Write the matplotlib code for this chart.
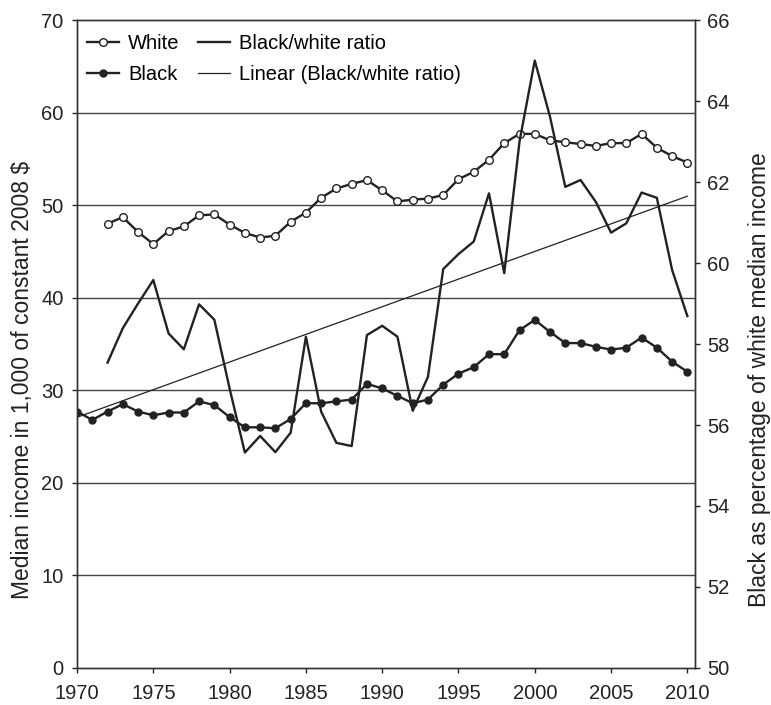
import matplotlib.pyplot as plt
import numpy as np

plt.rcParams['font.family'] = ['Liberation Sans', 'DejaVu Sans']

years = np.arange(1970, 2011)

white_years = np.arange(1972, 2011)
white = [48.0, 48.7, 47.1, 45.8, 47.2, 47.7, 48.9, 49.0, 47.9, 47.0,
         46.5, 46.7, 48.2, 49.2, 50.8, 51.8, 52.3, 52.7, 51.6, 50.4,
         50.6, 50.7, 51.1, 52.8, 53.6, 54.9, 56.7, 57.7, 57.7, 57.0,
         56.8, 56.6, 56.4, 56.7, 56.7, 57.7, 56.2, 55.3, 54.6]

black = [27.7, 26.8, 27.7, 28.5, 27.7, 27.3, 27.6, 27.6, 28.8, 28.4,
         27.1, 26.0, 26.0, 25.9, 26.9, 28.6, 28.6, 28.8, 29.0, 30.7,
         30.2, 29.4, 28.6, 29.0, 30.6, 31.8, 32.5, 33.9, 33.9, 36.5,
         37.6, 36.3, 35.1, 35.1, 34.7, 34.4, 34.6, 35.7, 34.6, 33.1,
         32.0]

ratio_years = np.arange(1972, 2011)
ratio = [57.54, 58.39, 59.0, 59.58, 58.26, 57.87, 58.98, 58.6, 56.9, 55.32,
         55.73, 55.33, 55.81, 58.18, 56.33, 55.56, 55.48, 58.22, 58.45, 58.18,
         56.35, 57.19, 59.85, 60.22, 60.53, 61.72, 59.75, 63.0, 65.0, 63.61,
         61.88, 62.05, 61.51, 60.75, 60.98, 61.74, 61.61, 59.83, 58.69]

trend_years = [1970, 2010]
trend = [56.19, 61.65]

col = '#222222'
fs = 14.5

fig = plt.figure(figsize=(7.71, 7.05), dpi=100)
ax = fig.add_axes([0.0999, 0.0525, 0.8015, 0.9191])
ax2 = ax.twinx()

for g in range(10, 70, 10):
    ax.axhline(g, color='#444444', lw=1.0, zorder=1)

l_white, = ax.plot(white_years, white, '-o', color=col, lw=1.7, ms=5.5,
                   mfc='white', mec=col, mew=1.0, zorder=3)
l_black, = ax.plot(years, black, '-o', color=col, lw=1.7, ms=5.0,
                   mfc=col, mec=col, zorder=3)
l_ratio, = ax2.plot(ratio_years, ratio, '-', color=col, lw=1.7, zorder=3)
l_trend, = ax2.plot(trend_years, trend, '-', color=col, lw=0.9, zorder=3)

ax.set_xlim(1970, 2010.5)
ax.set_ylim(0, 70)
ax2.set_ylim(50, 66)
ax.set_xticks(range(1970, 2011, 5))
ax.set_yticks(range(0, 71, 10))
ax2.set_yticks(range(50, 67, 2))

for a in (ax, ax2):
    a.tick_params(labelsize=fs, colors=col, length=3.8, width=1.0)
    for s in a.spines.values():
        s.set_color('#333333')
        s.set_linewidth(1.0)
ax.tick_params(axis='x', pad=8)
ax.tick_params(axis='y', pad=6)
ax2.tick_params(axis='y', pad=5)

ax.set_ylabel('Median income in 1,000 of constant 2008 $', fontsize=16.5, color=col, labelpad=5)
ax2.set_ylabel('Black as percentage of white median income', fontsize=16.5, color=col, labelpad=13)
ax.yaxis.label.set_y(0.445)
ax2.yaxis.label.set_y(0.445)

ax2.legend([l_white, l_black, l_ratio, l_trend],
           ['White', 'Black', 'Black/white ratio', 'Linear (Black/white ratio)'],
           loc='upper left', ncol=2, frameon=False, fontsize=fs,
           handlelength=1.6, handletextpad=0.45, labelspacing=0.6,
           columnspacing=0.9, borderaxespad=0.1, bbox_to_anchor=(0.0, 0.994))

fig.savefig('out.png', dpi=100)
